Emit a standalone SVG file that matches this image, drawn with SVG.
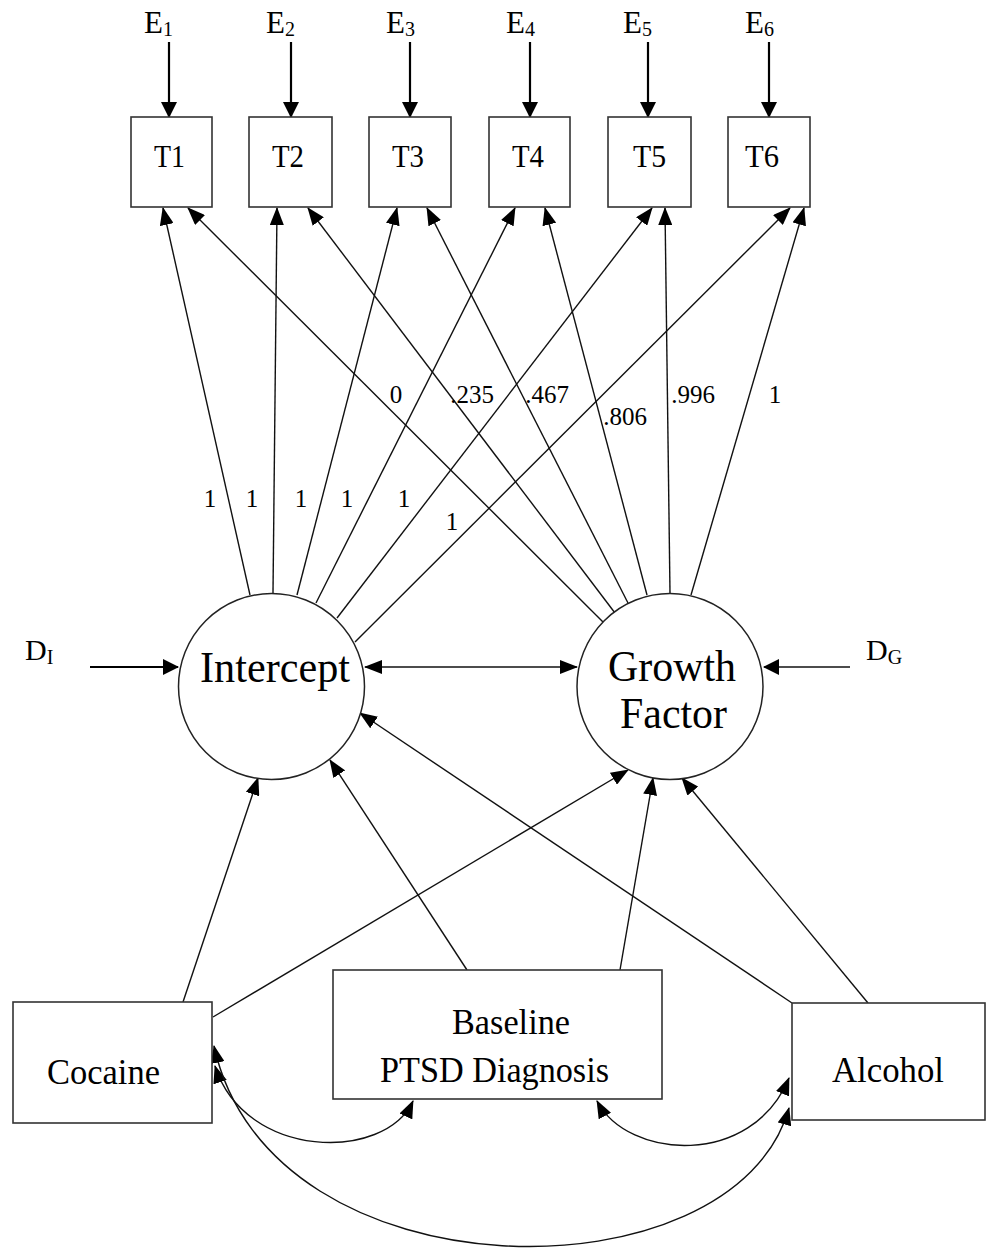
<svg xmlns="http://www.w3.org/2000/svg" width="987" height="1251" viewBox="0 0 987 1251">
<defs>
<style>
.box{fill:#fff;stroke:#333;stroke-width:1.6}
.circ{fill:#fff;stroke:#222;stroke-width:1.5}
.t{font-family:"Liberation Serif","Times New Roman",serif;fill:#000}
.ln{stroke:#111;stroke-width:1.4;fill:none}
.lnb{stroke:#000;stroke-width:2.2;fill:none}
.arr{marker-end:url(#ah)}
.dbl{marker-start:url(#ah);marker-end:url(#ah)}
</style>
<marker id="ah" viewBox="0 0 18 14" refX="17" refY="7" markerWidth="18" markerHeight="14" markerUnits="userSpaceOnUse" orient="auto-start-reverse">
<path d="M0,0 L18,7 L0,14 z" fill="#000"/>
</marker>
<marker id="ahE" viewBox="0 0 16 16" refX="15" refY="8" markerWidth="16" markerHeight="16" markerUnits="userSpaceOnUse" orient="auto">
<path d="M0,0 L16,8 L0,16 z" fill="#000"/>
</marker>
</defs>
<rect width="987" height="1251" fill="#fff"/>

<g id="connectors">
<path class="lnb" marker-end="url(#ahE)" d="M169,42 L169,117"/>
<path class="lnb" marker-end="url(#ahE)" d="M291,42 L291,117"/>
<path class="lnb" marker-end="url(#ahE)" d="M410,42 L410,117"/>
<path class="lnb" marker-end="url(#ahE)" d="M530,42 L530,117"/>
<path class="lnb" marker-end="url(#ahE)" d="M648,42 L648,117"/>
<path class="lnb" marker-end="url(#ahE)" d="M769,42 L769,117"/>
<path class="ln arr" d="M250,595 L163,208"/>
<path class="ln arr" d="M273,593 L277,208"/>
<path class="ln arr" d="M297,595 L397,208"/>
<path class="ln arr" d="M316,603 L515,208"/>
<path class="ln arr" d="M337,618 L652,208"/>
<path class="ln arr" d="M355,642 L790,208"/>
<path class="ln arr" d="M603,622 L188,208"/>
<path class="ln arr" d="M615,613 L308,208"/>
<path class="ln arr" d="M628,603 L427,208"/>
<path class="ln arr" d="M647,595 L545,208"/>
<path class="ln arr" d="M670,593 L665,208"/>
<path class="ln arr" d="M691,595 L804,208"/>
<path class="lnb" marker-end="url(#ahE)" d="M90,667 L178,667"/>
<path class="ln" stroke-width="1.8" marker-end="url(#ahE)" d="M850,667 L764,667"/>
<path class="ln dbl" stroke-width="1.6" d="M365,667 L577,667"/>
<path class="ln arr" d="M183,1002 L258,778"/>
<path class="ln arr" d="M467,970 L330,760"/>
<path class="ln arr" d="M792,1003 L360,713"/>
<path class="ln arr" d="M213,1017 L628,770"/>
<path class="ln arr" d="M620,970 L653,778"/>
<path class="ln arr" d="M868,1003 L682,778"/>
<path class="ln dbl" d="M215,1066 C245,1160 385,1162 413,1101"/>
<path class="ln dbl" d="M597,1101 C628,1160 752,1168 789,1078"/>
<path class="ln dbl" d="M214,1046 C270,1302 735,1302 789,1108"/>
</g>

<g id="E1"><text class="t" x="144" y="33" font-size="31">E<tspan font-size="20" dy="3">1</tspan></text></g>
<g id="E2"><text class="t" x="266" y="33" font-size="31">E<tspan font-size="20" dy="3">2</tspan></text></g>
<g id="E3"><text class="t" x="386" y="33" font-size="31">E<tspan font-size="20" dy="3">3</tspan></text></g>
<g id="E4"><text class="t" x="506" y="33" font-size="31">E<tspan font-size="20" dy="3">4</tspan></text></g>
<g id="E5"><text class="t" x="623" y="33" font-size="31">E<tspan font-size="20" dy="3">5</tspan></text></g>
<g id="E6"><text class="t" x="745" y="33" font-size="31">E<tspan font-size="20" dy="3">6</tspan></text></g>

<g id="T1"><rect class="box" x="131" y="117" width="81" height="90"/><text class="t" x="154" y="167" font-size="32" textLength="31" lengthAdjust="spacingAndGlyphs">T1</text></g>
<g id="T2"><rect class="box" x="249" y="117" width="83" height="90"/><text class="t" x="272" y="167" font-size="32" textLength="32" lengthAdjust="spacingAndGlyphs">T2</text></g>
<g id="T3"><rect class="box" x="369" y="117" width="82" height="90"/><text class="t" x="392" y="167" font-size="32" textLength="32" lengthAdjust="spacingAndGlyphs">T3</text></g>
<g id="T4"><rect class="box" x="489" y="117" width="81" height="90"/><text class="t" x="512" y="167" font-size="32" textLength="32" lengthAdjust="spacingAndGlyphs">T4</text></g>
<g id="T5"><rect class="box" x="608" y="117" width="83" height="90"/><text class="t" x="633" y="167" font-size="32" textLength="33" lengthAdjust="spacingAndGlyphs">T5</text></g>
<g id="T6"><rect class="box" x="728" y="117" width="82" height="90"/><text class="t" x="745" y="167" font-size="32" textLength="34" lengthAdjust="spacingAndGlyphs">T6</text></g>

<g id="loading-labels">
<text class="t" font-size="25" x="396" y="403" text-anchor="middle">0</text>
<text class="t" font-size="25" x="472" y="403" text-anchor="middle">.235</text>
<text class="t" font-size="25" x="547" y="403" text-anchor="middle">.467</text>
<text class="t" font-size="25" x="625" y="425" text-anchor="middle">.806</text>
<text class="t" font-size="25" x="693" y="403" text-anchor="middle">.996</text>
<text class="t" font-size="25" x="775" y="403" text-anchor="middle">1</text>
<text class="t" font-size="25" x="210" y="507" text-anchor="middle">1</text>
<text class="t" font-size="25" x="252" y="507" text-anchor="middle">1</text>
<text class="t" font-size="25" x="301" y="507" text-anchor="middle">1</text>
<text class="t" font-size="25" x="347" y="507" text-anchor="middle">1</text>
<text class="t" font-size="25" x="404" y="507" text-anchor="middle">1</text>
<text class="t" font-size="25" x="452" y="530" text-anchor="middle">1</text>
</g>

<g id="DI"><text class="t" x="25" y="660" font-size="30">D<tspan font-size="20" dy="4">I</tspan></text></g>
<g id="DG"><text class="t" x="866" y="660" font-size="30">D<tspan font-size="20" dy="4">G</tspan></text></g>

<g id="Intercept"><circle class="circ" cx="271.5" cy="686.5" r="93"/><text class="t" x="200" y="682" font-size="44" textLength="150" lengthAdjust="spacingAndGlyphs">Intercept</text></g>
<g id="Growth"><circle class="circ" cx="670" cy="686.5" r="93"/><text class="t" x="608" y="681" font-size="44" textLength="128" lengthAdjust="spacingAndGlyphs">Growth</text><text class="t" x="620" y="728" font-size="44" textLength="107" lengthAdjust="spacingAndGlyphs">Factor</text></g>

<g id="Cocaine"><rect class="box" x="13" y="1002" width="199" height="121"/><text class="t" x="47" y="1084" font-size="35" textLength="113" lengthAdjust="spacingAndGlyphs">Cocaine</text></g>
<g id="Baseline"><rect class="box" x="333" y="970" width="329" height="129"/><text class="t" x="452" y="1034" font-size="35" textLength="118" lengthAdjust="spacingAndGlyphs">Baseline</text><text class="t" x="380" y="1082" font-size="35" textLength="229" lengthAdjust="spacingAndGlyphs">PTSD Diagnosis</text></g>
<g id="Alcohol"><rect class="box" x="792" y="1003" width="193" height="117"/><text class="t" x="832" y="1082" font-size="35" textLength="112" lengthAdjust="spacingAndGlyphs">Alcohol</text></g>
</svg>
